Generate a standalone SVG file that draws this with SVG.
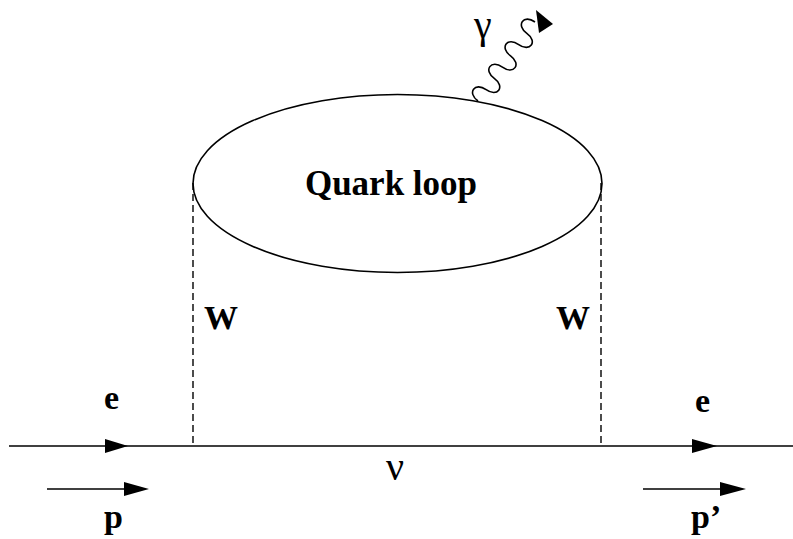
<svg xmlns="http://www.w3.org/2000/svg" width="793" height="539" viewBox="0 0 793 539">
<style>
.ln{stroke:#000;stroke-width:1.6;fill:none}
.dash{stroke:#000;stroke-width:1.4;fill:none;stroke-dasharray:7,4}
.lbl{font-family:"Liberation Serif","Times New Roman",serif;font-weight:bold;font-size:34px;fill:#000}
.grk{font-family:"Liberation Serif","Times New Roman",serif;fill:#000}
.head{fill:#000;stroke:none}
</style>
<rect width="793" height="539" fill="#fff"/>
<g id="quark-loop">
<ellipse cx="397.5" cy="183.5" rx="204.5" ry="89" class="ln"/>
<text x="391" y="195" text-anchor="middle" class="lbl" style="font-size:35px">Quark loop</text>
</g>
<g id="connectors">
<line x1="9" y1="446" x2="793" y2="446" class="ln"/>
<polygon class="head" points="128,446 105,439 105,453"/>
<polygon class="head" points="717,446 692,439 692,453"/>
<line x1="193" y1="183" x2="193" y2="446" class="dash"/>
<line x1="601" y1="183" x2="601" y2="446" class="dash"/>
<line x1="47" y1="489" x2="126" y2="489" class="ln"/>
<polygon class="head" points="149,489 124,482 124,496"/>
<line x1="643" y1="489" x2="722" y2="489" class="ln"/>
<polygon class="head" points="746,489 720,482 720,496"/>
<g id="photon">
<path transform="translate(478,101) rotate(-54.2)" class="ln" d="M0,0 C0,-14 13.91,-14 13.91,0 S27.83,14 27.83,0 S41.74,-14 41.74,0 S55.66,14 55.66,0 S69.57,-14 69.57,0 S83.49,14 83.49,0 S97.4,-14 97.4,0"/>
<polygon class="head" points="536,10 553,24 539,33"/>
</g>
</g>
<g id="labels">
<text x="204" y="329" class="lbl">W</text>
<text x="556" y="329" class="lbl">W</text>
<text x="104" y="409" class="lbl">e</text>
<text x="695" y="412" class="lbl">e</text>
<text x="104" y="528" class="lbl">p</text>
<text x="691" y="528" class="lbl">p’</text>
<text x="386" y="480" class="grk" style="font-size:40px">ν</text>
<text x="474" y="38" class="grk" style="font-size:40px">γ</text>
</g>
</svg>
